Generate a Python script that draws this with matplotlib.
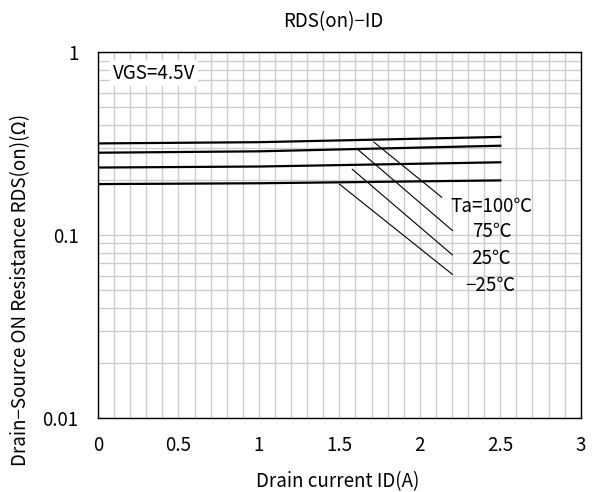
import matplotlib.pyplot as plt
from matplotlib.ticker import FixedLocator, NullFormatter

plt.rcParams['font.family'] = ['Noto Sans CJK JP', 'DejaVu Sans']

# 読み取ったデータ
id_a = [0, 1.0, 2.5]
rds_100 = [0.317, 0.322, 0.344]
rds_75 = [0.282, 0.287, 0.308]
rds_25 = [0.234, 0.237, 0.250]
rds_m25 = [0.190, 0.192, 0.199]

temp_labels = ['Ta=100℃', '75℃', '25℃', '−25℃']
# 引き出し線 (始点, 終点)
leader_start = [(1.715, 0.322), (1.614, 0.294), (1.580, 0.229), (1.500, 0.190)]
leader_end = [(2.136, 0.161), (2.202, 0.106), (2.202, 0.078), (2.202, 0.061)]
label_pos = [(2.188, 0.144), (2.324, 0.104), (2.318, 0.0748), (2.281, 0.0533)]

fig = plt.figure(figsize=(5.92, 4.92), dpi=100)
ax = fig.add_axes([0.1655, 0.1504, 0.8155, 0.7436])

ax.set_yscale('log')
ax.set_xlim(0, 3)
ax.set_ylim(0.01, 1)

ax.xaxis.set_major_locator(FixedLocator([0, 0.5, 1, 1.5, 2, 2.5, 3]))
ax.xaxis.set_minor_locator(FixedLocator([i / 10 for i in range(31)]))
ax.set_xticklabels(['0', '0.5', '1', '1.5', '2', '2.5', '3'])
ax.yaxis.set_major_locator(FixedLocator([0.01, 0.1, 1]))
ax.set_yticklabels(['0.01', '0.1', '1'])
ax.yaxis.set_minor_formatter(NullFormatter())

ax.grid(True, which='both', color='#cccccc', linewidth=1.0)
ax.set_axisbelow(True)
ax.tick_params(which='both', length=0, labelsize=13.5)
ax.tick_params(axis='x', pad=12)
ax.tick_params(axis='y', pad=14)

for s in ax.spines.values():
    s.set_linewidth(1.0)
    s.set_color('black')

for ys in [rds_100, rds_75, rds_25, rds_m25]:
    ax.plot(id_a, ys, color='black', linewidth=1.6)

for (x0, y0), (x1, y1), (tx, ty), lab in zip(leader_start, leader_end, label_pos, temp_labels):
    ax.plot([x0, x1], [y0, y1], color='black', linewidth=0.8)
    ax.text(tx, ty, lab, fontsize=13.5, ha='left', va='center')

ax.text(0.031, 0.943, 'VGS=4.5V', fontsize=13.5, ha='left', va='center',
        transform=ax.transAxes,
        bbox=dict(facecolor='white', edgecolor='none', pad=2))

ax.set_title('RDS(on)−ID', fontsize=13.5, pad=18, x=0.487)
ax.set_xlabel('Drain current ID(A)', fontsize=13.5, va='center')
ax.xaxis.set_label_coords(0.497, -0.175)
ax.set_ylabel('Drain−Source ON Resistance RDS(on)(Ω)', fontsize=13.5, va='center')
ax.yaxis.set_label_coords(-0.1595, 0.351)

fig.savefig('out.png', dpi=100)
